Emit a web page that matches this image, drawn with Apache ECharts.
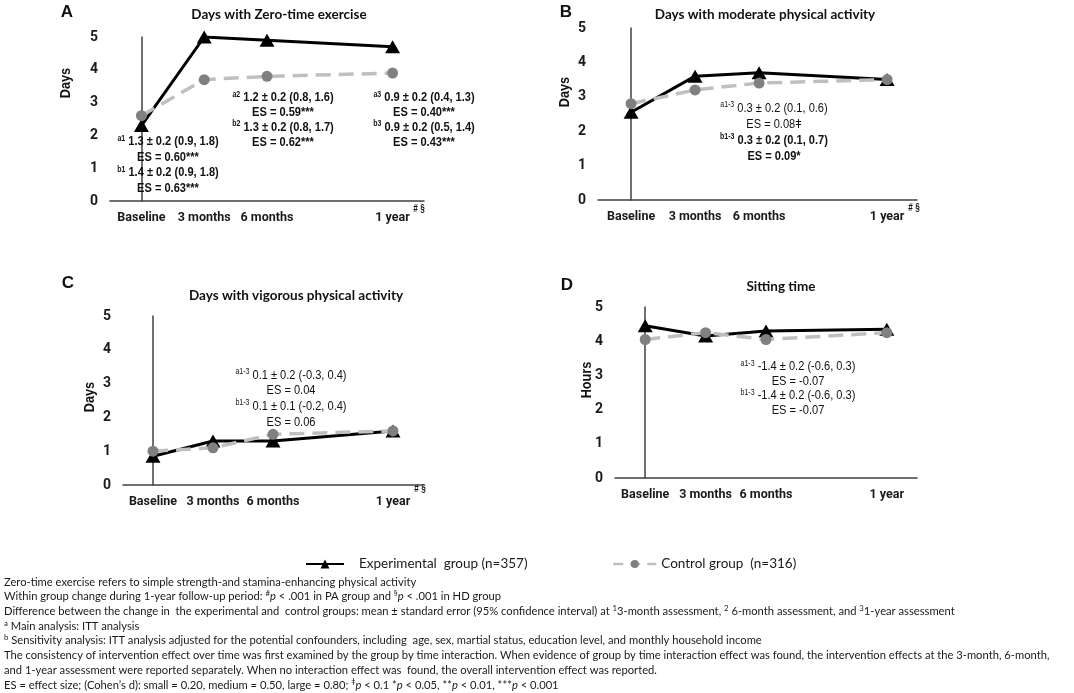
<!DOCTYPE html>
<html>
<head>
<meta charset="utf-8">
<script src="https://cdn.jsdelivr.net/npm/echarts@6/dist/echarts.min.js"></script>
<style>
  html, body { margin: 0; padding: 0; background: #fff; }
  #chart { width: 1074px; height: 693px; }
</style>
</head>
<body>
<div id="chart"></div>
<script>
// ---------- DATA ----------
const months = [0, 3, 6, 12];
const timeLabels = ['Baseline', '3 months', '6 months', '1 year'];

const expName = 'Experimental  group (n=357)';
const ctlName = 'Control group  (n=316)';

// A: Days with Zero-time exercise
const expA = [2.3, 5.0, 4.9, 4.7];
const ctlA = [2.6, 3.7, 3.8, 3.9];
// B: Days with moderate physical activity
const expB = [2.55, 3.6, 3.7, 3.5];
const ctlB = [2.8, 3.2, 3.4, 3.5];
// C: Days with vigorous physical activity
const expC = [0.85, 1.3, 1.3, 1.6];
const ctlC = [1.0, 1.1, 1.5, 1.6];
// D: Sitting time
const expD = [4.45, 4.15, 4.3, 4.35];
const ctlD = [4.05, 4.25, 4.05, 4.25];

const panelTitles = ['Days with Zero-time exercise', 'Days with moderate physical activity',
                     'Days with vigorous physical activity', 'Sitting time'];
const panelLetters = ['A', 'B', 'C', 'D'];
const yNames = ['Days', 'Days', 'Days', 'Hours'];

// ---------- LAYOUT ----------
const grids = [
  { left: 110, top: 37, width: 314, height: 164, xmin: -1.5, xmax: 13.5 },
  { left: 598, top: 28, width: 319, height: 172, xmin: -1.55, xmax: 13.4 },
  { left: 123, top: 316, width: 300, height: 169, xmin: -1.5, xmax: 13.5 },
  { left: 615, top: 307, width: 302, height: 171, xmin: -1.5, xmax: 13.5 }
];

const arial = '"Liberation Sans", Arial, sans-serif';
const axisFont = 'Roboto, "Liberation Sans", sans-serif';
const calib = 'Lato, "Open Sans", sans-serif';
const NARROW = 0.82;

const expSets = [expA, expB, expC, expD];
const ctlSets = [ctlA, ctlB, ctlC, ctlD];
const zip = arr => months.map((m, i) => [m, arr[i]]);

const xAxes = grids.map((g, i) => ({
  type: 'value', gridIndex: i, min: g.xmin, max: g.xmax,
  axisLine: { show: true, onZero: false, lineStyle: { color: '#404040', width: 1.5 } },
  axisTick: { show: false },
  splitLine: { show: false },
  axisLabel: {
    customValues: months,
    formatter: v => timeLabels[months.indexOf(v)] || '',
    fontFamily: axisFont, fontWeight: 'bold', fontSize: 12.5, color: '#1a1a1a', margin: 10
  }
}));
const yAxes = grids.map((g, i) => ({
  type: 'value', gridIndex: i, min: 0, max: 5, interval: 1,
  axisLine: { show: true, lineStyle: { color: '#404040', width: 1.5 } },
  axisTick: { show: false },
  splitLine: { show: false },
  axisLabel: { fontFamily: axisFont, fontWeight: 'bold', fontSize: 14, color: '#1a1a1a', margin: 12 }
}));

const series = [];
grids.forEach((g, i) => {
  series.push({
    name: expName, type: 'line', xAxisIndex: i, yAxisIndex: i,
    data: zip(expSets[i]),
    symbol: 'triangle', symbolSize: [15, 13],
    lineStyle: { color: '#000', width: 3 },
    itemStyle: { color: '#000' },
    z: 2
  });
  series.push({
    name: ctlName, type: 'line', xAxisIndex: i, yAxisIndex: i,
    data: zip(ctlSets[i]),
    symbol: 'circle', symbolSize: 11,
    lineStyle: { color: '#BFBFBF', width: 3.5, type: [15, 8] },
    itemStyle: { color: '#808080' },
    z: 3
  });
});

// ---------- TEXT ANNOTATIONS ----------
function annot(x, top, lh, text, bold) {
  const w = bold ? 'bold' : 'normal';
  return {
    type: 'text', x: x, y: top, z: 10, scaleX: NARROW,
    style: {
      x: 0, y: 0,
      text: text, align: 'center', verticalAlign: 'top',
      fontFamily: arial, fontSize: 13.5, fontWeight: w, fill: '#111', lineHeight: lh,
      rich: {
        n: { fontFamily: arial, fontSize: 13.5, fontWeight: 'normal', fill: '#111', lineHeight: lh },
        b: { fontFamily: arial, fontSize: 13.5, fontWeight: 'bold', fill: '#111', lineHeight: lh },
        s: { fontFamily: arial, fontSize: 8.5, fontWeight: w, fill: '#111', lineHeight: 11, verticalAlign: 'top' },
        sb: { fontFamily: arial, fontSize: 8.5, fontWeight: 'bold', fill: '#111', lineHeight: 11, verticalAlign: 'top' }
      }
    }
  };
}

const graphics = [];
// panel letters
const letterPos = [[67, 12], [566, 12], [68, 283], [567, 285]];
letterPos.forEach((p, i) => graphics.push({
  type: 'text', x: p[0], y: p[1], style: {
    text: panelLetters[i], align: 'center', verticalAlign: 'middle',
    fontFamily: arial, fontWeight: 'bold', fontSize: 17, fill: '#111'
  }
}));
// y names
const yNamePos = [[66, 83], [565, 92], [90, 397], [587, 380]];
yNamePos.forEach((p, i) => graphics.push({
  type: 'text', x: p[0], y: p[1], rotation: Math.PI / 2, scaleX: NARROW, style: {
    x: 0, y: 0,
    text: yNames[i], align: 'center', verticalAlign: 'middle',
    fontFamily: arial, fontWeight: 'bold', fontSize: 15.5, fill: '#111'
  }
}));
// "# §" marks
[[419, 209], [914, 208], [420, 489]].forEach(p => graphics.push({
  type: 'text', x: p[0], y: p[1], scaleX: NARROW, style: {
    x: 0, y: 0,
    text: '# §', align: 'center', verticalAlign: 'middle',
    fontFamily: arial, fontWeight: 'bold', fontSize: 10, fill: '#111'
  }
}));

// panel A
graphics.push(annot(168, 134, 15.4,
  '{sb|a1} 1.3 ± 0.2 (0.9, 1.8)\nES = 0.60***\n{sb|b1} 1.4 ± 0.2 (0.9, 1.8)\nES = 0.63***', true));
graphics.push(annot(283, 90, 14.8,
  '{sb|a2} 1.2 ± 0.2 (0.8, 1.6)\nES = 0.59***\n{sb|b2} 1.3 ± 0.2 (0.8, 1.7)\nES = 0.62***', true));
graphics.push(annot(424, 90, 14.8,
  '{sb|a3} 0.9 ± 0.2 (0.4, 1.3)\nES = 0.40***\n{sb|b3} 0.9 ± 0.2 (0.5, 1.4)\nES = 0.43***', true));
// panel B
graphics.push(annot(774, 100, 16,
  '{s|a1-3} {n|0.3 ± 0.2 (0.1, 0.6)}\n{n|ES = 0.08ǂ}\n{sb|b1-3} {b|0.3 ± 0.2 (0.1, 0.7)}\n{b|ES = 0.09*}', false));
// panel C
graphics.push(annot(291, 367, 15.7,
  '{s|a1-3} 0.1 ± 0.2 (-0.3, 0.4)\nES = 0.04\n{s|b1-3} 0.1 ± 0.1 (-0.2, 0.4)\nES = 0.06', false));
// panel D
graphics.push(annot(798, 359, 14.6,
  '{s|a1-3} -1.4 ± 0.2 (-0.6, 0.3)\nES = -0.07\n{s|b1-3} -1.4 ± 0.2 (-0.6, 0.3)\nES = -0.07', false));

// footnotes
const footLines = [
  'Zero-time exercise refers to simple strength-and stamina-enhancing physical activity',
  'Within group change during 1-year follow-up period: {s|#}{i|p} < .001 in PA group and {s|§}{i|p} < .001 in HD group',
  'Difference between the change in  the experimental and  control groups: mean ± standard error (95% confidence interval) at {s|1}3-month assessment, {s|2} 6-month assessment, and {s|3}1-year assessment',
  '{s|a} Main analysis: ITT analysis',
  '{s|b} Sensitivity analysis: ITT analysis adjusted for the potential confounders, including  age, sex, martial status, education level, and monthly household income',
  'The consistency of intervention effect over time was first examined by the group by time interaction. When evidence of group by time interaction effect was found, the intervention effects at the 3-month, 6-month,',
  'and 1-year assessment were reported separately. When no interaction effect was  found, the overall intervention effect was reported.',
  'ES = effect size; (Cohen\u2019s d): small = 0.20, medium = 0.50, large = 0.80; {s|ǂ}{i|p} < 0.1 *{i|p} < 0.05, **{i|p} < 0.01, ***{i|p} < 0.001'
];
const footFont = 11.2;
footLines.forEach((t, k) => graphics.push({
  type: 'text', x: 4, y: 582 + k * 14.7, style: {
    text: t, align: 'left', verticalAlign: 'middle',
    fontFamily: calib, fontSize: footFont, fill: '#1a1a1a', lineHeight: 14,
    rich: {
      s: { fontFamily: calib, fontSize: 7.8, fill: '#1a1a1a', lineHeight: 9, verticalAlign: 'top' },
      i: { fontFamily: calib, fontSize: footFont, fontStyle: 'italic', fill: '#1a1a1a', lineHeight: 14 }
    }
  }
}));

const option = {
  backgroundColor: '#fff',
  animation: false,
  title: [
    { text: panelTitles[0], left: 274, top: 3, textAlign: 'center' },
    { text: panelTitles[1], left: 760, top: 3, textAlign: 'center' },
    { text: panelTitles[2], left: 291, top: 284, textAlign: 'center' },
    { text: panelTitles[3], left: 776, top: 275, textAlign: 'center' }
  ].map(t => Object.assign(t, {
    textStyle: { fontFamily: calib, fontWeight: 'bold', fontSize: 13.5, color: '#111' }
  })),
  grid: grids.map(g => ({ left: g.left, top: g.top, width: g.width, height: g.height })),
  xAxis: xAxes,
  yAxis: yAxes,
  legend: [
    { data: [expName], left: 300, top: 552, itemWidth: 38, itemHeight: 11,
      lineStyle: { width: 2, color: '#000' },
      textStyle: { fontFamily: calib, fontSize: 13.5, color: '#1a1a1a', padding: [0, 0, 0, 10] } },
    { data: [ctlName], left: 607, top: 552, itemWidth: 43, itemHeight: 10,
      lineStyle: { width: 2.5, color: '#BFBFBF', type: [10, 7] },
      textStyle: { fontFamily: calib, fontSize: 13.5, color: '#1a1a1a', padding: [0, 0, 0, 0] } }
  ],
  series: series,
  graphic: graphics
};

const chart = echarts.init(document.getElementById('chart'));
chart.setOption(option);
</script>
</body>
</html>
